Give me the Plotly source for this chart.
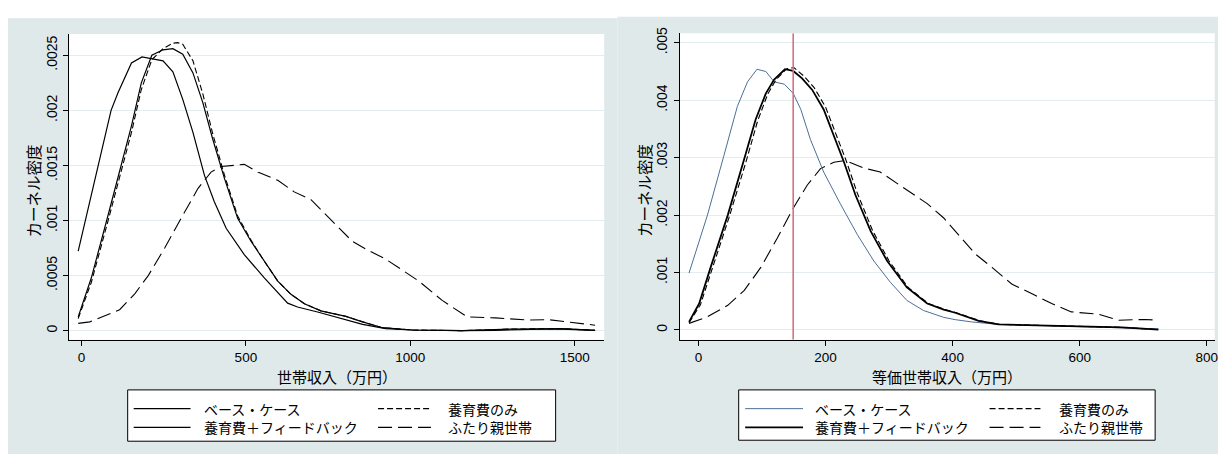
import plotly.graph_objects as go

W, H = 1221, 457

# ---------------- data: left panel (household income, 万円) ----------------
L_base_x = [-10, 50, 90, 111, 152, 184, 248, 278, 308, 339, 374, 404, 440, 495, 556, 627, 657, 718, 768,
            804, 855, 925, 1006, 1158, 1259, 1400, 1461, 1562]
L_base_y = [7.23, 15.0, 20.0, 21.6, 24.3, 24.85, 24.5, 23.5, 21.0, 18.0, 14.1, 11.7, 9.3, 6.9, 4.8, 2.5, 2.15, 1.7, 1.3,
            0.96, 0.57, 0.18, 0.06, 0.0, 0.03, 0.15, 0.15, 0.03]

L_fb_x = [-10, 30, 81, 121, 152, 182, 214, 248, 278, 308, 339, 369, 399, 435, 475, 516, 556, 597, 637, 678, 728, 768,
          804, 855, 915, 1006, 1158, 1310, 1400, 1461, 1562]
L_fb_y = [1.25, 4.8, 10.5, 15.0, 18.6, 22.5, 25.0, 25.5, 25.6, 25.1, 23.4, 20.7, 17.4, 13.8, 10.2, 8.1, 6.3, 4.5, 3.3,
          2.45, 1.8, 1.55, 1.3, 0.8, 0.27, 0.06, 0.0, 0.15, 0.2, 0.18, 0.03]

L_only_x = [-10, 30, 81, 121, 152, 182, 214, 248, 278, 293, 308, 339, 369, 399, 435, 475, 516, 556, 597, 637, 678, 728,
            768, 804, 855, 915, 1006, 1158, 1310, 1400, 1461, 1562]
L_only_y = [1.1, 4.4, 10.0, 14.4, 18.0, 21.9, 24.6, 25.6, 26.1, 26.15, 26.0, 24.5, 21.5, 17.9, 14.1, 10.4, 8.2, 6.3,
            4.5, 3.3, 2.45, 1.8, 1.55, 1.3, 0.8, 0.27, 0.06, 0.0, 0.15, 0.2, 0.18, 0.03]

L_two_x = [-10, 25, 116, 162, 203, 253, 303, 354, 394, 425, 495, 536, 597, 647, 698, 753, 824, 865, 925, 1026, 1097,
           1173, 1259, 1360, 1421, 1562]
L_two_y = [0.66, 0.8, 1.9, 3.35, 5.0, 7.5, 10.2, 12.9, 14.4, 14.9, 15.1, 14.4, 13.65, 12.6, 11.9, 10.2, 8.1, 7.4, 6.5,
           4.5, 2.75, 1.25, 1.16, 0.96, 1.0, 0.5]

# ---------------- data: right panel (equivalent household income, 万円) ----------------
R_base_x = [-15, 14, 40, 61, 77, 92, 106, 119, 135, 149, 161, 176, 197, 224, 250, 276, 302, 328, 354, 386,
            404, 430, 472, 535, 587, 666, 724]
R_base_y = [9.9, 20.0, 30.4, 38.9, 43.2, 45.4, 45.0, 43.2, 42.8, 41.2, 38.4, 33.2, 27.5, 21.8, 16.6, 12.0, 8.3, 5.15,
            3.4, 2.2, 1.8, 1.4, 0.97, 0.8, 0.7, 0.46, 0.2]

R_fb_x = [-15, 1, 19, 46, 72, 90, 106, 119, 136, 149, 163, 179, 197, 213, 229, 247, 271, 297, 328, 360, 386,
          404, 441, 472, 535, 587, 666, 724]
R_fb_y = [1.4, 4.6, 10.9, 20.0, 29.8, 36.7, 41.2, 43.6, 45.4, 45.1, 43.8, 41.8, 38.4, 33.8, 29.2, 23.5, 17.2, 12.0,
          7.4, 4.6, 3.55, 3.0, 1.6, 0.97, 0.8, 0.7, 0.46, 0.05]

R_only_x = [-15, 3, 21, 48, 75, 93, 109, 122, 139, 150, 166, 182, 200, 216, 232, 250, 274, 300, 330, 362, 388,
            406, 443, 474, 535, 587, 666, 724]
R_only_y = [1.26, 4.4, 10.5, 19.6, 29.4, 36.4, 41.1, 43.6, 45.5, 45.7, 44.2, 42.2, 38.8, 34.2, 29.6, 23.8, 17.3, 12.0,
            7.4, 4.6, 3.55, 3.0, 1.6, 0.97, 0.8, 0.7, 0.46, 0.05]

R_two_x = [-15, 14, 46, 72, 98, 124, 149, 171, 192, 213, 231, 260, 286, 323, 360, 386, 404, 436, 462, 493, 525,
           556, 587, 629, 661, 703, 724]
R_two_y = [1.15, 2.3, 4.3, 6.9, 10.9, 16.0, 21.2, 25.2, 28.1, 29.2, 29.5, 28.2, 27.5, 24.7, 22.0, 19.5, 17.2, 13.2,
           10.9, 8.0, 6.3, 4.6, 3.15, 2.75, 1.7, 1.83, 1.7]

R_vline = 149  # reference line (万円)

L_yticks = [0, 0.0005, 0.001, 0.0015, 0.002, 0.0025]
L_yticktext = ["0", ".0005", ".001", ".0015", ".002", ".0025"]
L_xticks = [0, 500, 1000, 1500]
R_yticks = [0, 0.001, 0.002, 0.003, 0.004, 0.005]
R_yticktext = ["0", ".001", ".002", ".003", ".004", ".005"]
R_xticks = [0, 200, 400, 600, 800]

series_names = ["ベース・ケース", "養育費のみ", "養育費＋フィードバック", "ふたり親世帯"]
x_titles = ["世帯収入（万円）", "等価世帯収入（万円）"]
y_title = "カーネル密度"

SCALE = 1e-4

BG = "#dfe9ea"
GRID = "#e3ecee"
BLUE = "#4d6f98"
JP = "Noto Sans CJK JP"
NUM = "Liberation Sans, Arial"

SHORT = "6px,3px"
LONG = "14px,6px"


def px_x(p):
    return p / W


def px_y(p):
    return 1 - p / H


fig = go.Figure()


def add(x, y, xa, ya, color, width, dash):
    fig.add_trace(go.Scatter(x=x, y=[v * SCALE for v in y], xaxis=xa, yaxis=ya, mode="lines",
                             line=dict(color=color, width=width, dash=dash), showlegend=False,
                             hoverinfo="skip"))


# left panel traces
add(L_two_x, L_two_y, "x", "y", "black", 1.1, LONG)
add(L_base_x, L_base_y, "x", "y", "black", 1.2, "solid")
add(L_only_x, L_only_y, "x", "y", "black", 1.1, SHORT)
add(L_fb_x, L_fb_y, "x", "y", "black", 1.2, "solid")

# right panel traces
add(R_two_x, R_two_y, "x2", "y2", "black", 1.1, LONG)
add(R_base_x, R_base_y, "x2", "y2", BLUE, 1.0, "solid")
add(R_only_x, R_only_y, "x2", "y2", "black", 1.1, SHORT)
add(R_fb_x, R_fb_y, "x2", "y2", "black", 1.8, "solid")

# red vertical reference line on right panel (data coordinates)
fig.add_trace(go.Scatter(x=[R_vline, R_vline], y=[-0.000172, 0.005165], xaxis="x2", yaxis="y2", mode="lines",
                         line=dict(color="#d9707e", width=1.6), showlegend=False, hoverinfo="skip"))

axis_common = dict(showline=True, linecolor="black", linewidth=1, ticks="outside", ticklen=5, tickcolor="black",
                   tickwidth=1, zeroline=False)
xfont = dict(family=NUM, size=13.5, color="black")
yfont = dict(family=NUM, size=14, color="black")

fig.update_layout(
    width=W, height=H,
    margin=dict(l=0, r=0, t=0, b=0),
    paper_bgcolor="white", plot_bgcolor="white",
    showlegend=False,
    xaxis=dict(domain=[px_x(69.3), px_x(605.7)], range=[-37.6, 1589.8], tickvals=L_xticks,
               showgrid=False, anchor="y", tickfont=xfont, **axis_common),
    yaxis=dict(domain=[px_y(338.3), px_y(28.3)], range=[-0.0000833, 0.002694], tickvals=L_yticks,
               ticktext=L_yticktext, tickangle=-90, showgrid=True, gridcolor=GRID, gridwidth=1.3,
               anchor="x", ticklabelstandoff=1, tickfont=yfont, **axis_common),
    xaxis2=dict(domain=[px_x(681.3), px_x(1217.7)], range=[-29.8, 812.6], tickvals=R_xticks,
                showgrid=False, anchor="y2", tickfont=xfont, **axis_common),
    yaxis2=dict(domain=[px_y(338.3), px_y(27.7)], range=[-0.000172, 0.005165], tickvals=R_yticks,
                ticktext=R_yticktext, tickangle=-90, showgrid=True, gridcolor=GRID, gridwidth=1.3,
                anchor="x2", ticklabelstandoff=1, tickfont=yfont, **axis_common),
)

shapes = []
# panel backgrounds
shapes.append(dict(type="rect", xref="paper", yref="paper", x0=px_x(8), x1=px_x(619), y0=px_y(454), y1=px_y(12.5),
                   fillcolor=BG, line=dict(width=0), layer="below"))
shapes.append(dict(type="rect", xref="paper", yref="paper", x0=px_x(619), x1=px_x(1221), y0=px_y(454), y1=px_y(11),
                   fillcolor=BG, line=dict(width=0), layer="below"))
# white plot regions
shapes.append(dict(type="rect", xref="paper", yref="paper", x0=px_x(69.3), x1=px_x(605.7), y0=px_y(338.3),
                   y1=px_y(28.3), fillcolor="white", line=dict(width=0), layer="below"))
shapes.append(dict(type="rect", xref="paper", yref="paper", x0=px_x(681.3), x1=px_x(1217.7), y0=px_y(338.3),
                   y1=px_y(27.7), fillcolor="white", line=dict(width=0), layer="below"))

annotations = []

# legends (drawn manually)
legend_specs = [
    dict(box=(128, 557, 389, 441), c1=(134, 191, 202), c2=(379, 432, 447), base_color="black", base_w=1.2),
    dict(box=(740.5, 1158, 389, 440), c1=(747, 805, 815), c2=(992, 1043, 1060), base_color=BLUE, base_w=1.0),
]
rows = (408, 427)
for spec in legend_specs:
    bx0, bx1, by0, by1 = spec["box"]
    shapes.append(dict(type="rect", xref="paper", yref="paper", x0=px_x(bx0), x1=px_x(bx1), y0=px_y(by1),
                       y1=px_y(by0), fillcolor="white", line=dict(color="black", width=1)))
    items = [
        (spec["c1"], rows[0], spec["base_color"], spec["base_w"], "solid", series_names[0]),
        (spec["c2"], rows[0], "black", 1.1, SHORT, series_names[1]),
        (spec["c1"], rows[1], "black", 1.2 if spec["base_color"] == "black" else 1.8, "solid", series_names[2]),
        (spec["c2"], rows[1], "black", 1.1, LONG, series_names[3]),
    ]
    for (sx0, sx1, tx), ry, col, lw, dash, name in items:
        shapes.append(dict(type="line", xref="paper", yref="paper", x0=px_x(sx0), x1=px_x(sx1), y0=px_y(ry),
                           y1=px_y(ry), line=dict(color=col, width=lw, dash=dash)))
        annotations.append(dict(xref="paper", yref="paper", x=px_x(tx), y=px_y(ry), text=name, showarrow=False,
                                xanchor="left", yanchor="middle",
                                font=dict(family=JP, size=14, color="black")))

# axis titles
annotations.append(dict(xref="paper", yref="paper", x=px_x(337.5), y=px_y(375), text=x_titles[0], showarrow=False,
                        xanchor="center", yanchor="middle", font=dict(family=JP, size=15, color="black")))
annotations.append(dict(xref="paper", yref="paper", x=px_x(949.5), y=px_y(375), text=x_titles[1], showarrow=False,
                        xanchor="center", yanchor="middle", font=dict(family=JP, size=15, color="black")))
annotations.append(dict(xref="paper", yref="paper", x=px_x(33), y=px_y(187), text=y_title, showarrow=False,
                        textangle=-90, xanchor="center", yanchor="middle",
                        font=dict(family=JP, size=15.5, color="black")))
annotations.append(dict(xref="paper", yref="paper", x=px_x(645), y=px_y(187), text=y_title, showarrow=False,
                        textangle=-90, xanchor="center", yanchor="middle",
                        font=dict(family=JP, size=15.5, color="black")))

fig.update_layout(shapes=shapes, annotations=annotations)

fig.write_html("out.html", config={"displayModeBar": False},
               post_script="document.body.style.margin='0';document.body.style.overflow='hidden';")
